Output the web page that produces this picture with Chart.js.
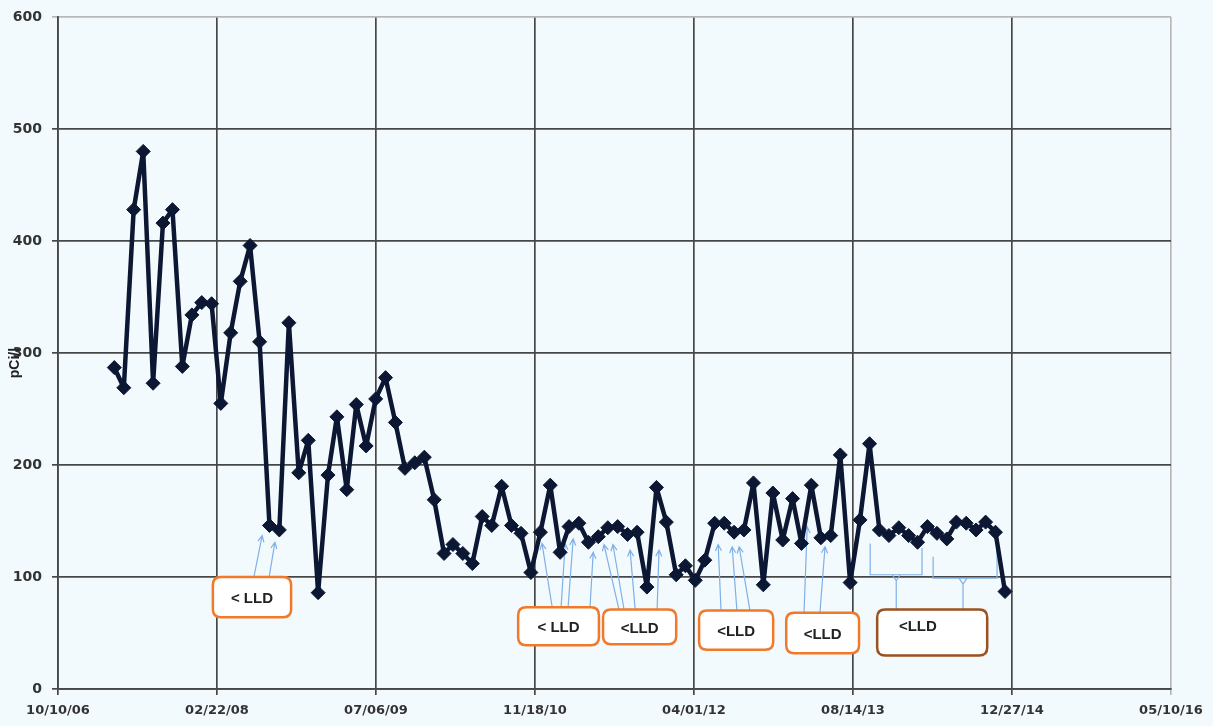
<!DOCTYPE html>
<html>
<head>
<meta charset="utf-8">
<script src="https://cdn.jsdelivr.net/npm/chart.js@4.4.0/dist/chart.umd.min.js"></script>
<style>
  html, body { margin: 0; padding: 0; background: #f3fafd; }
  #wrap { width: 1213px; height: 726px; position: relative; }
</style>
</head>
<body>
<div id="wrap"><canvas id="chart"></canvas></div>
<script>
// Monthly sample dates
const sampleDates = [
    '2007-04-05', '2007-05-05', '2007-06-05', '2007-07-05', '2007-08-05', '2007-09-05', '2007-10-05', '2007-11-05', '2007-12-05',
    '2008-01-05', '2008-02-05', '2008-03-05', '2008-04-05', '2008-05-05', '2008-06-05', '2008-07-05', '2008-08-05', '2008-09-05', '2008-10-05', '2008-11-05', '2008-12-05',
    '2009-01-05', '2009-02-05', '2009-03-05', '2009-04-05', '2009-05-05', '2009-06-05', '2009-07-05', '2009-08-05', '2009-09-05', '2009-10-05', '2009-11-05', '2009-12-05',
    '2010-01-05', '2010-02-05', '2010-03-05', '2010-04-05', '2010-05-05', '2010-06-05', '2010-07-05', '2010-08-05', '2010-09-05', '2010-10-05', '2010-11-05', '2010-12-05',
    '2011-01-05', '2011-02-05', '2011-03-05', '2011-04-05', '2011-05-05', '2011-06-05', '2011-07-05', '2011-08-05', '2011-09-05', '2011-10-05', '2011-11-05', '2011-12-05',
    '2012-01-05', '2012-02-05', '2012-03-05', '2012-04-05', '2012-05-05', '2012-06-05', '2012-07-05', '2012-08-05', '2012-09-05', '2012-10-05', '2012-11-05', '2012-12-05',
    '2013-01-05', '2013-02-05', '2013-03-05', '2013-04-05', '2013-05-05', '2013-06-05', '2013-07-05', '2013-08-05', '2013-09-05', '2013-10-05', '2013-11-05', '2013-12-05',
    '2014-01-05', '2014-02-05', '2014-03-05', '2014-04-05', '2014-05-05', '2014-06-05', '2014-07-05', '2014-08-05', '2014-09-05', '2014-10-05', '2014-11-05', '2014-12-05'
];

// Radon, pCi/l
const pciValues = [
    287, 269, 428, 480, 273, 416, 428, 288, 334,
    345, 344, 255, 318, 364, 396, 310, 146, 142, 327, 193, 222,
    86, 191, 243, 178, 254, 217, 259, 278, 238, 197, 202, 207,
    169, 121, 129, 121, 112, 154, 146, 181, 146, 139, 104, 140,
    182, 122, 145, 148, 131, 136, 144, 145, 138, 140, 91, 180,
    149, 102, 110, 97, 115, 148, 148, 140, 142, 184, 93, 175,
    133, 170, 130, 182, 135, 137, 209, 95, 151, 219, 142, 137,
    144, 137, 131, 145, 139, 134, 149, 148, 142, 149, 140, 87
];

// Axis ticks (x axis counts days from the first tick, 500 days apart)
const xTickLabels = ['10/10/06', '02/22/08', '07/06/09', '11/18/10', '04/01/12', '08/14/13', '12/27/14', '05/10/16'];
const xStartDate = '2006-10-10';
const yTickValues = [0, 100, 200, 300, 400, 500, 600];

// "< LLD" notes: boxes and pointer lines, in days / pCi/l
const lldBoxes = [
    { text: '< LLD', x0: 487, x1: 733, yTop: 100, yBottom: 64, color: '#f07a2a', textAt: 0.5 },
    { text: '< LLD', x0: 1447, x1: 1701, yTop: 73, yBottom: 39, color: '#f07a2a', textAt: 0.5 },
    { text: '<LLD', x0: 1714, x1: 1944, yTop: 71, yBottom: 40, color: '#f07a2a', textAt: 0.5 },
    { text: '<LLD', x0: 2016, x1: 2249, yTop: 70, yBottom: 35, color: '#f07a2a', textAt: 0.5 },
    { text: '<LLD', x0: 2290, x1: 2519, yTop: 68, yBottom: 32, color: '#f07a2a', textAt: 0.5 },
    { text: '<LLD', x0: 2576, x1: 2922, yTop: 71, yBottom: 30, color: '#9a5220', textAt: 0.37 }
];
const lldArrows = [
    [[616, 100], [642, 137]], [[664, 100], [682, 131]],
    [[1554, 73], [1522, 130]], [[1582, 73], [1595, 130]], [[1604, 73], [1620, 134]], [[1673, 73], [1683, 122]],
    [[1764, 71], [1717, 129]], [[1780, 71], [1745, 129]], [[1815, 71], [1799, 124]], [[1884, 71], [1890, 124]],
    [[2085, 70], [2076, 129]], [[2135, 70], [2120, 127]], [[2176, 70], [2142, 127]],
    [[2346, 68], [2356, 145]], [[2396, 68], [2412, 127]]
];
const lldBrackets = [
    [[2554, 130], [2554, 102], [2717, 102], [2717, 126]],
    [[2752, 118], [2752, 99], [2953, 99], [2953, 137]]
];
const lldBracketStems = [
    [[2636, 102], [2636, 71]],
    [[2846, 99], [2846, 71]]
];

function dayOffset(str) {
    const [y, m, d] = str.split('-').map(Number);
    const [y0, m0, d0] = xStartDate.split('-').map(Number);
    return (Date.UTC(y, m - 1, d) - Date.UTC(y0, m0 - 1, d0)) / 86400000;
}

const bgColor = '#f3fafd';
const gridColor = '#474747';
const lineColor = '#0c1733';
const noteBlue = '#7fb0e8';

function roundRect(ctx, x, y, w, h, r) {
    ctx.beginPath();
    ctx.moveTo(x + r, y);
    ctx.lineTo(x + w - r, y);
    ctx.quadraticCurveTo(x + w, y, x + w, y + r);
    ctx.lineTo(x + w, y + h - r);
    ctx.quadraticCurveTo(x + w, y + h, x + w - r, y + h);
    ctx.lineTo(x + r, y + h);
    ctx.quadraticCurveTo(x, y + h, x, y + h - r);
    ctx.lineTo(x, y + r);
    ctx.quadraticCurveTo(x, y, x + r, y);
    ctx.closePath();
}

const backgroundPlugin = {
    id: 'bg',
    beforeDraw(chart) {
        const ctx = chart.ctx;
        ctx.save();
        ctx.fillStyle = bgColor;
        ctx.fillRect(0, 0, chart.width, chart.height);
        ctx.restore();
    }
};

const notesPlugin = {
    id: 'lldNotes',
    beforeDatasetsDraw(chart) {
        const ctx = chart.ctx;
        const xs = chart.scales.x, ys = chart.scales.y;
        const px = p => [xs.getPixelForValue(p[0]), ys.getPixelForValue(p[1])];
        ctx.save();
        ctx.strokeStyle = noteBlue;
        ctx.lineWidth = 1.2;

        // pointer arrows
        lldArrows.forEach(a => {
            const [x0, y0] = px(a[0]);
            const [x1, y1] = px(a[1]);
            ctx.beginPath();
            ctx.moveTo(x0, y0);
            ctx.lineTo(x1, y1);
            const ang = Math.atan2(y1 - y0, x1 - x0);
            ctx.moveTo(x1 - 7 * Math.cos(ang - 0.45), y1 - 7 * Math.sin(ang - 0.45));
            ctx.lineTo(x1, y1);
            ctx.lineTo(x1 - 7 * Math.cos(ang + 0.45), y1 - 7 * Math.sin(ang + 0.45));
            ctx.stroke();
        });

        // brackets
        lldBrackets.forEach(b => {
            ctx.beginPath();
            b.forEach((p, i) => {
                const [x, y] = px(p);
                if (i === 0) ctx.moveTo(x, y); else ctx.lineTo(x, y);
            });
            ctx.stroke();
        });
        lldBracketStems.forEach(s => {
            const [x0, y0] = px(s[0]);
            const [x1, y1] = px(s[1]);
            ctx.beginPath();
            ctx.moveTo(x0 - 4, y0);
            ctx.lineTo(x0, y0 + 6);
            ctx.lineTo(x0 + 4, y0);
            ctx.moveTo(x0, y0 + 6);
            ctx.lineTo(x1, y1);
            ctx.stroke();
        });

        // boxes
        lldBoxes.forEach(b => {
            const x0 = xs.getPixelForValue(b.x0), x1 = xs.getPixelForValue(b.x1);
            const y0 = ys.getPixelForValue(b.yTop), y1 = ys.getPixelForValue(b.yBottom);
            roundRect(ctx, x0, y0, x1 - x0, y1 - y0, 8);
            ctx.fillStyle = '#ffffff';
            ctx.fill();
            ctx.lineWidth = 2.5;
            ctx.strokeStyle = b.color;
            ctx.stroke();
            ctx.fillStyle = '#222222';
            ctx.font = 'bold 15px "Liberation Sans", Arial, sans-serif';
            ctx.textAlign = 'center';
            ctx.textBaseline = 'middle';
            const ty = b.textAt === 0.5 ? (y0 + y1) / 2 + 2 : y0 + 17;
            ctx.fillText(b.text, x0 + (x1 - x0) * b.textAt, ty);
        });
        ctx.restore();
    },
    afterDraw(chart) {
        // y axis title, drawn over the tick labels like the original
        const ctx = chart.ctx;
        ctx.save();
        ctx.translate(15, chart.scales.y.getPixelForValue(291));
        ctx.rotate(-Math.PI / 2);
        ctx.fillStyle = '#222222';
        ctx.font = 'bold 14px "Liberation Sans", Arial, sans-serif';
        ctx.textAlign = 'center';
        ctx.textBaseline = 'middle';
        ctx.fillText('pCi/l', 0, 0);
        ctx.restore();
    }
};

const yTickFont = { family: '"DejaVu Sans", Verdana, sans-serif', size: 14, weight: 'bold' };
const xTickFont = { family: '"DejaVu Sans", Verdana, sans-serif', size: 13, weight: 'bold' };

new Chart(document.getElementById('chart'), {
    type: 'line',
    data: {
        datasets: [{
            data: sampleDates.map((d, i) => ({ x: dayOffset(d), y: pciValues[i] })),
            borderColor: lineColor,
            borderWidth: 4.5,
            borderJoinStyle: 'round',
            pointStyle: 'rectRot',
            pointRadius: 7,
            pointBackgroundColor: lineColor,
            pointBorderColor: lineColor,
            pointBorderWidth: 1,
            tension: 0,
            clip: false
        }]
    },
    options: {
        responsive: true,
        maintainAspectRatio: false,
        animation: false,
        layout: { padding: { top: 17, right: 42, left: 0, bottom: 0 } },
        plugins: { legend: { display: false }, tooltip: { enabled: false } },
        scales: {
            x: {
                type: 'linear',
                min: 0,
                max: 3500,
                ticks: {
                    stepSize: 500,
                    maxRotation: 0,
                    autoSkip: false,
                    padding: 8,
                    color: '#333333',
                    font: xTickFont,
                    callback: (v, i) => xTickLabels[i]
                },
                grid: {
                    color: ctx => (ctx.tick && ctx.tick.value === 3500) ? '#b8b8b8' : gridColor,
                    lineWidth: 1.7,
                    tickLength: 6
                },
                border: { color: gridColor, width: 1.7 },
                afterFit(s) { s.height = 37; s.paddingLeft = 0; s.paddingRight = 0; }
            },
            y: {
                min: 0,
                max: 600,
                afterBuildTicks(s) { s.ticks = yTickValues.map(v => ({ value: v })); },
                ticks: {
                    padding: 10,
                    color: '#333333',
                    font: yTickFont
                },
                grid: {
                    color: ctx => (ctx.tick && ctx.tick.value === 600) ? '#b8b8b8' : gridColor,
                    lineWidth: 1.7,
                    tickLength: 6
                },
                border: { color: gridColor, width: 1.7 },
                afterFit(s) { s.width = 58; s.paddingTop = 0; s.paddingBottom = 0; }
            }
        }
    },
    plugins: [backgroundPlugin, notesPlugin]
});
</script>
</body>
</html>
